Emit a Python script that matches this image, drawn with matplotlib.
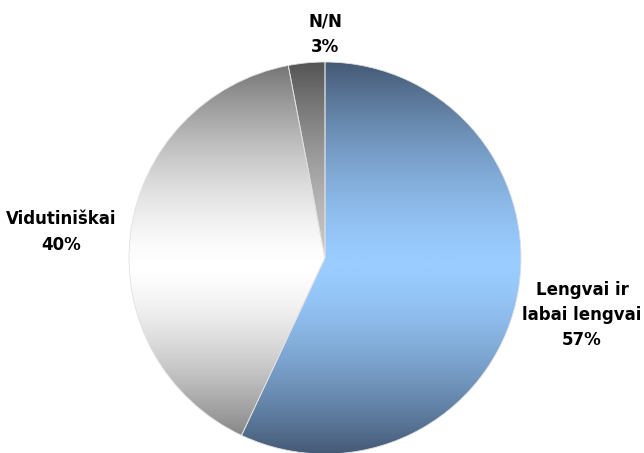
import matplotlib
matplotlib.use('Agg')
import matplotlib.pyplot as plt
import numpy as np
from matplotlib.colors import LinearSegmentedColormap

# answer shares
labels = ["Lengvai ir\nlabai lengvai", "Vidutiniškai", "N/N"]
shares = [57, 40, 3]

# (outer colour, centre colour) for the vertical shading of each slice
shades = [("#455a76", "#9accff"), ("#737373", "#ffffff"), ("#555555", "#c8c8c8")]

W, H = 644, 453
fig = plt.figure(figsize=(W / 100, H / 100), dpi=100)
ax = fig.add_axes([0, 0, 1, 1])

cx, cy, r = 325, H - 258, 196
wedges, _ = ax.pie(shares, startangle=90, counterclock=False,
                   center=(cx, cy), radius=r, frame=True,
                   wedgeprops=dict(edgecolor='#e0e0e0', linewidth=0.6))

# vertical gradient: dark at the top and bottom of the pie, light a bit below centre
ys = np.linspace(0, 1, 400).reshape(-1, 1)
light_at = 0.52
d = np.where(ys < light_at, (light_at - ys) / light_at, (ys - light_at) / (1 - light_at))
t = 1 - d ** 1.5
for w, (edge, mid) in zip(wedges, shades):
    w.set_facecolor('none')
    cmap = LinearSegmentedColormap.from_list('s', [edge, mid])
    im = ax.imshow(t, cmap=cmap, vmin=0, vmax=1, aspect='auto',
                   extent=(cx - r, cx + r, cy - r, cy + r), origin='upper',
                   zorder=1)
    im.set_clip_path(w)
    w.set_zorder(2)
ax.set_xlim(0, W)
ax.set_ylim(0, H)
ax.set_aspect('equal')
ax.axis('off')

font = dict(fontfamily='DejaVu Sans', fontweight='bold', fontsize=12,
            ha='center', va='center', linespacing=1.5)
ax.text(325, H - 34, f"{labels[2]}\n{shares[2]}%", **font)
ax.text(61, H - 232, f"{labels[1]}\n{shares[1]}%", **font)
ax.text(582, H - 315, f"{labels[0]}\n{shares[0]}%", **font)

fig.savefig('out.png', dpi=100)
